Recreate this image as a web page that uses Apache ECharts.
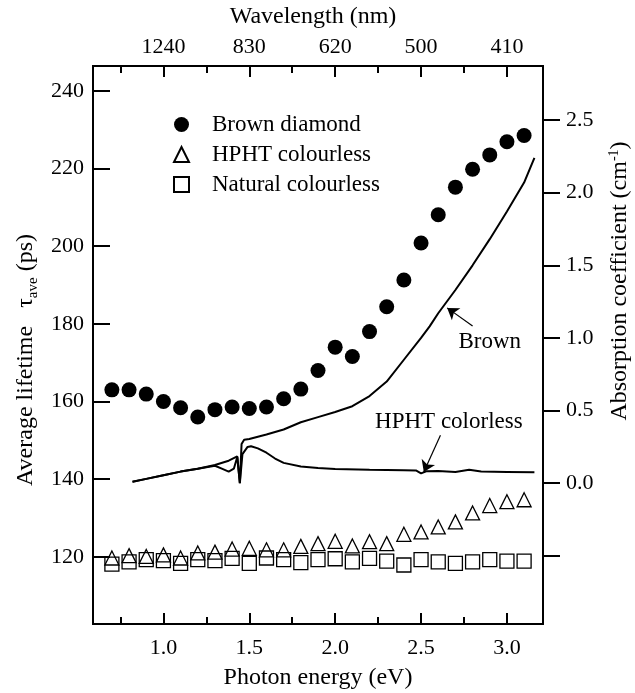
<!DOCTYPE html>
<html><head><meta charset="utf-8">
<script src="https://cdn.jsdelivr.net/npm/echarts@6/dist/echarts.min.js"></script>
<style>html,body{margin:0;padding:0;background:#fff}#c{width:635px;height:693px}</style>
</head><body><div id="c"></div>
<script>
// ---- data ----
const energies = [0.7,0.8,0.9,1.0,1.1,1.2,1.3,1.4,1.5,1.6,1.7,1.8,1.9,2.0,2.1,2.2,2.3,2.4,2.5,2.6,2.7,2.8,2.9,3.0,3.1];
const brownTau = [163.0,163.0,161.9,160.0,158.4,156.0,157.9,158.6,158.2,158.6,160.7,163.2,168.0,174.0,171.6,178.0,184.4,191.3,200.8,208.1,215.2,219.8,223.5,226.9,228.5];
const hphtTau = [119.7,120.3,120.1,120.5,119.7,121.0,121.2,122.0,122.2,121.8,121.8,122.7,123.4,124.0,122.8,123.9,123.4,125.8,126.4,127.7,129.0,131.3,133.2,134.2,134.7];
const naturalTau = [118.1,118.7,119.3,119.0,118.3,119.3,119.0,119.6,118.3,119.7,119.3,118.5,119.3,119.5,118.7,119.6,118.9,117.9,119.3,118.7,118.3,118.7,119.3,118.9,118.9];

const brownAbsE = [0.82,0.9,1.0,1.1,1.2,1.3,1.38,1.43,1.445,1.455,1.47,1.5,1.55,1.6,1.7,1.8,1.9,2.0,2.1,2.2,2.3,2.4,2.5,2.55,2.6,2.7,2.8,2.9,3.0,3.1,3.16];
const brownAbs = [0.01,0.03,0.055,0.08,0.1,0.125,0.155,0.185,0.0,0.27,0.3,0.305,0.32,0.335,0.37,0.42,0.455,0.49,0.53,0.6,0.7,0.85,1.0,1.08,1.17,1.33,1.5,1.68,1.87,2.07,2.24];
const hphtAbsE = [0.82,0.9,1.0,1.1,1.2,1.3,1.34,1.38,1.41,1.43,1.445,1.46,1.49,1.51,1.55,1.6,1.65,1.7,1.8,1.9,2.0,2.2,2.4,2.47,2.5,2.53,2.6,2.7,2.78,2.85,3.0,3.16];
const hphtAbs = [0.01,0.03,0.055,0.08,0.1,0.12,0.1,0.08,0.1,0.18,0.0,0.2,0.25,0.255,0.24,0.21,0.17,0.14,0.115,0.105,0.098,0.093,0.09,0.088,0.068,0.082,0.085,0.078,0.092,0.08,0.078,0.075];

const xMajorTicks = [1.0,1.5,2.0,2.5,3.0];
const xMinorTicks = [0.75,1.25,1.75,2.25,2.75];
const topTickLabels = ['1240','830','620','500','410'];
const leftTicks = [120,140,160,180,200,220,240];
const rightTicks = [-0.5,0.0,0.5,1.0,1.5,2.0,2.5];
const rightLabels = [0.0,0.5,1.0,1.5,2.0,2.5];
const seriesNames = ['Brown diamond','HPHT colourless','Natural colourless'];

// ---- chart ----
const FF = 'Liberation Serif';
const black = '#000';
const X_MIN = 0.59, X_MAX = 3.21;
const baseText = {fontFamily: FF, fontSize: 22, color: black};
const lineSt = {color: black, width: 2};

function xAx(pos, ticks, len, labels) {
  return {
    type: 'value', position: pos, min: X_MIN, max: X_MAX,
    axisLine: {show: true, onZero: false, lineStyle: lineSt},
    axisTick: {show: true, inside: true, length: len, customValues: ticks, lineStyle: lineSt},
    axisLabel: labels ? Object.assign({show: true, customValues: ticks, margin: pos === 'bottom' ? 13 : 8}, baseText, labels) : {show: false},
    splitLine: {show: false}
  };
}
const xb = xAx('bottom', xMajorTicks, 11, {formatter: v => v.toFixed(1)});
xb.name = 'Photon energy (eV)'; xb.nameLocation = 'middle'; xb.nameGap = 42;
xb.nameTextStyle = {fontFamily: FF, fontSize: 24, color: black};
const xt = xAx('top', xMajorTicks, 11, {formatter: v => topTickLabels[xMajorTicks.findIndex(t => Math.abs(t - v) < 1e-6)]});
xt.name = 'Wavelength (nm)'; xt.nameLocation = 'middle'; xt.nameGap = 37;
xt.nameTextStyle = {fontFamily: FF, fontSize: 24, color: black, padding: [0, 10, 0, 0]};

const arrowLine = {silent: true, symbol: ['none', 'arrow'], symbolSize: 11, label: {show: false},
  lineStyle: {color: black, width: 1.2, type: 'solid'}, emphasis: {disabled: true}};

const option = {
  animation: false,
  backgroundColor: '#fff',
  grid: {left: 93, right: 92, top: 66, bottom: 69, containLabel: false, outerBoundsMode: 'none'},
  legend: {
    data: seriesNames, orient: 'vertical', left: 168, top: 108,
    itemWidth: 15, itemHeight: 15, itemGap: 7,
    textStyle: {fontFamily: FF, fontSize: 23, color: black, lineHeight: 23, padding: [0,0,0,18]},
    selectedMode: false
  },
  xAxis: [xb, xAx('bottom', xMinorTicks, 7, null), xt, xAx('top', xMinorTicks, 7, null)],
  yAxis: [
    {
      type: 'value', position: 'left', min: 102.7, max: 246.4,
      axisLine: {show: true, onZero: false, lineStyle: lineSt},
      axisTick: {show: true, inside: true, length: 17, customValues: leftTicks, lineStyle: lineSt},
      axisLabel: Object.assign({customValues: leftTicks, margin: 9}, baseText),
      splitLine: {show: false},
      name: '{n|Average lifetime   τ}{sub|ave}{n| (ps)}', nameLocation: 'middle', nameGap: 52, nameRotate: 90,
      nameTextStyle: {fontFamily: FF, fontSize: 24, color: black, padding: [0, 30, 0, 0],
        rich: {n: {fontFamily: FF, fontSize: 24, color: black}, sub: {fontFamily: FF, fontSize: 15, color: black, padding: [14,0,0,0]}}}
    },
    {
      type: 'value', position: 'right', min: -0.969, max: 2.872,
      axisLine: {show: true, onZero: false, lineStyle: lineSt},
      axisTick: {show: true, inside: false, length: 17, customValues: rightTicks, lineStyle: lineSt},
      axisLabel: Object.assign({customValues: rightLabels, margin: 23, formatter: v => v.toFixed(1)}, baseText),
      splitLine: {show: false},
      name: '{n|Absorption coefficient (cm}{sup|-1}{n|)}', nameLocation: 'middle', nameGap: 64, nameRotate: 90,
      nameTextStyle: {fontFamily: FF, fontSize: 24, color: black, padding: [0, 0, 0, 128],
        rich: {n: {fontFamily: FF, fontSize: 24, color: black}, sup: {fontFamily: FF, fontSize: 14, color: black, padding: [0,0,12,0]}}}
    }
  ],
  series: [
    {
      name: 'Brown absorption', type: 'line', xAxisIndex: 0, yAxisIndex: 1,
      data: brownAbsE.map((e, i) => [e, brownAbs[i]]), showSymbol: false, symbol: 'none',
      lineStyle: {color: black, width: 2}, z: 3,
      markLine: Object.assign({data: [[{coord: [2.80, 1.083]}, {coord: [2.652, 1.207]}]]}, arrowLine),
      markPoint: {silent: true, symbol: 'circle', symbolSize: 0,
        label: {show: true, position: 'inside', formatter: 'Brown', fontFamily: FF, fontSize: 23, color: black},
        data: [{coord: [2.90, 0.97]}]}
    },
    {
      name: 'HPHT absorption', type: 'line', xAxisIndex: 0, yAxisIndex: 1,
      data: hphtAbsE.map((e, i) => [e, hphtAbs[i]]), showSymbol: false, symbol: 'none',
      lineStyle: {color: black, width: 2}, z: 3,
      markLine: Object.assign({data: [[{coord: [2.613, 0.331]}, {coord: [2.516, 0.078]}]]}, arrowLine),
      markPoint: {silent: true, symbol: 'circle', symbolSize: 0,
        label: {show: true, position: 'inside', formatter: 'HPHT colorless', fontFamily: FF, fontSize: 23, color: black},
        data: [{coord: [2.662, 0.424]}]}
    },
    {
      name: seriesNames[0], type: 'scatter', xAxisIndex: 0, yAxisIndex: 0,
      data: energies.map((e, i) => [e, brownTau[i]]), symbol: 'circle', symbolSize: 15,
      itemStyle: {color: black, opacity: 1}, z: 4
    },
    {
      name: seriesNames[1], type: 'scatter', xAxisIndex: 0, yAxisIndex: 0,
      data: energies.map((e, i) => [e, hphtTau[i]]), symbol: 'triangle', symbolSize: 14,
      itemStyle: {color: 'rgba(255,255,255,0)', borderColor: black, borderWidth: 1.3, opacity: 1}, z: 4
    },
    {
      name: seriesNames[2], type: 'scatter', xAxisIndex: 0, yAxisIndex: 0,
      data: energies.map((e, i) => [e, naturalTau[i]]), symbol: 'rect', symbolSize: 14,
      itemStyle: {color: 'rgba(255,255,255,0)', borderColor: black, borderWidth: 1.3, opacity: 1}, z: 4
    }
  ]
};
const chart = echarts.init(document.getElementById('c'), null, {renderer: 'canvas'});
chart.setOption(option);
</script>
</body></html>
